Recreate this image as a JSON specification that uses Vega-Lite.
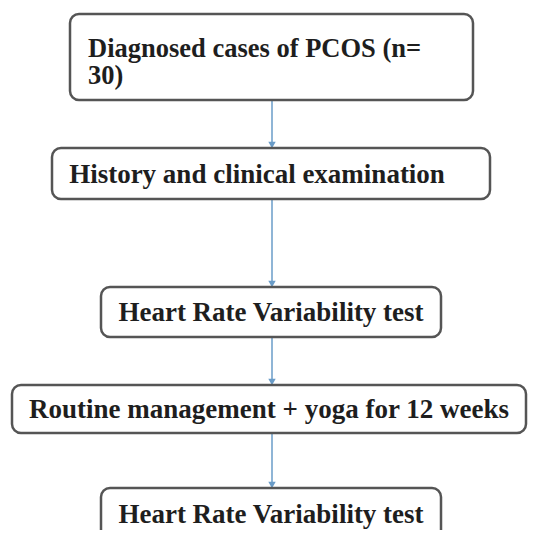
{
  "$schema": "https://vega.github.io/schema/vega-lite/v6.json",
  "width": 533,
  "height": 530,
  "autosize": {"type": "none"},
  "padding": 0,
  "background": "white",
  "config": {"view": {"stroke": null}},
  "datasets": {
    "boxes": [
      {"x1": 70, "x2": 473, "y1": 14, "y2": 100},
      {"x1": 52, "x2": 490, "y1": 148, "y2": 199},
      {"x1": 101, "x2": 441, "y1": 287, "y2": 337},
      {"x1": 12, "x2": 526, "y1": 385, "y2": 433},
      {"x1": 101, "x2": 441, "y1": 488, "y2": 560}
    ],
    "labels": [
      {"x": 88, "y": 49, "label": "Diagnosed cases of PCOS (n=", "align": "left"},
      {"x": 88, "y": 76, "label": "30)", "align": "left"},
      {"x": 257, "y": 175, "label": "History and clinical examination", "align": "center"},
      {"x": 271, "y": 313, "label": "Heart Rate Variability test", "align": "center"},
      {"x": 269, "y": 410, "label": "Routine management + yoga for 12 weeks", "align": "center"},
      {"x": 271, "y": 515, "label": "Heart Rate Variability test", "align": "center"}
    ],
    "arrows": [
      {"x": 272, "y1": 100, "y2": 145},
      {"x": 272, "y1": 199, "y2": 284},
      {"x": 272, "y1": 337, "y2": 382},
      {"x": 272, "y1": 433, "y2": 485}
    ]
  },
  "layer": [
    {
      "data": {"name": "arrows"},
      "mark": {"type": "rule", "color": "#6a9cc8", "strokeWidth": 1.5},
      "encoding": {
        "x": {"field": "x", "type": "quantitative", "scale": {"domain": [0, 533], "nice": false, "zero": false}, "axis": null},
        "y": {"field": "y1", "type": "quantitative", "scale": {"domain": [0, 530], "nice": false, "zero": false, "reverse": true}, "axis": null},
        "y2": {"field": "y2"}
      }
    },
    {
      "data": {"name": "arrows"},
      "mark": {"type": "point", "shape": "triangle-down", "filled": true, "color": "#6a9cc8", "size": 55, "opacity": 1},
      "encoding": {
        "x": {"field": "x", "type": "quantitative"},
        "y": {"field": "y2", "type": "quantitative"}
      }
    },
    {
      "data": {"name": "boxes"},
      "mark": {"type": "rect", "fill": "white", "stroke": "#555555", "strokeWidth": 2.5, "cornerRadius": 9, "clip": true},
      "encoding": {
        "x": {"field": "x1", "type": "quantitative"},
        "x2": {"field": "x2"},
        "y": {"field": "y1", "type": "quantitative"},
        "y2": {"field": "y2"}
      }
    },
    {
      "data": {"name": "labels"},
      "transform": [{"filter": "datum.align == 'left'"}],
      "mark": {"type": "text", "font": "Liberation Serif", "fontWeight": "bold", "fontSize": 26.5, "color": "#1e1e1e", "align": "left", "baseline": "middle"},
      "encoding": {
        "x": {"field": "x", "type": "quantitative"},
        "y": {"field": "y", "type": "quantitative"},
        "text": {"field": "label"}
      }
    },
    {
      "data": {"name": "labels"},
      "transform": [{"filter": "datum.align == 'center'"}],
      "mark": {"type": "text", "font": "Liberation Serif", "fontWeight": "bold", "fontSize": 27, "color": "#1e1e1e", "align": "center", "baseline": "middle"},
      "encoding": {
        "x": {"field": "x", "type": "quantitative"},
        "y": {"field": "y", "type": "quantitative"},
        "text": {"field": "label"}
      }
    }
  ]
}
